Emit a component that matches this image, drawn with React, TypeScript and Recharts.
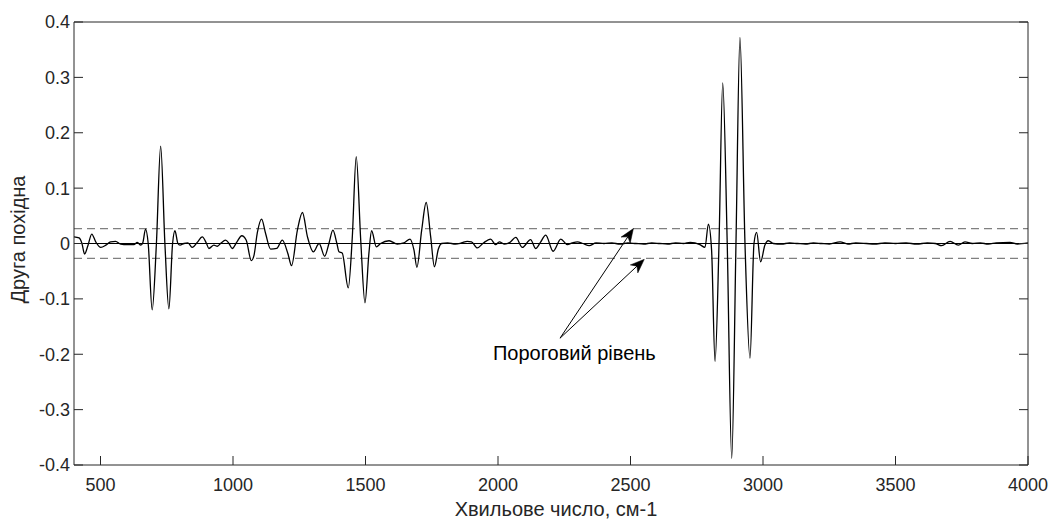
import React from 'react';
import { LineChart, Line, XAxis, YAxis, ReferenceLine, ReferenceDot } from 'recharts';

const wavenumbers: number[] = [
  400, 419, 430, 440, 453, 467, 482, 501, 520, 538, 557, 576, 601, 626, 639, 652, 660, 670, 680, 695,
  711, 727, 743, 758, 772, 781, 792, 800, 815, 830, 846, 865, 884, 900, 909, 928, 941, 955, 972, 985,
  997, 1015, 1033, 1050, 1069, 1079, 1092, 1108, 1123, 1142, 1165, 1186, 1207, 1221, 1243, 1262, 1281, 1303, 1325, 1346,
  1362, 1377, 1392, 1400, 1412, 1435, 1450, 1465, 1482, 1498, 1513, 1523, 1541, 1557, 1589, 1620, 1645, 1668, 1683, 1694,
  1712, 1729, 1746, 1760, 1775, 1787, 1810, 1840, 1862, 1884, 1900, 1922, 1945, 1972, 1991, 2005, 2025, 2045, 2067, 2092,
  2123, 2142, 2160, 2180, 2208, 2237, 2262, 2280, 2300, 2320, 2344, 2370, 2400, 2430, 2460, 2490, 2520, 2550, 2580, 2610,
  2640, 2670, 2700, 2725, 2762, 2781, 2794, 2806, 2819, 2834, 2848, 2865, 2882, 2898, 2913, 2932, 2951, 2966, 2976, 2991,
  3007, 3020, 3039, 3070, 3100, 3130, 3160, 3190, 3220, 3250, 3291, 3320, 3350, 3390, 3420, 3460, 3500, 3540, 3580, 3620,
  3650, 3674, 3706, 3737, 3762, 3790, 3820, 3850, 3880, 3932, 3960, 4000,
];

const secondDerivative: number[] = [
  0.012, 0.010, 0.000, -0.019, -0.003, 0.017, 0.003, -0.007, -0.003, 0.003, 0.004, -0.001, -0.002, -0.002, 0.002, -0.003, 0.002, 0.026, 0.000, -0.120,
  0.000, 0.176, 0.000, -0.118, 0.000, 0.023, 0.000, -0.003, 0.000, 0.001, -0.007, 0.002, 0.012, 0.000, -0.009, -0.003, -0.005, 0.001, 0.006, 0.000,
  -0.009, 0.003, 0.014, 0.006, -0.031, -0.022, 0.020, 0.044, 0.018, -0.010, -0.009, 0.006, -0.018, -0.040, 0.024, 0.056, 0.012, -0.015, 0.000, -0.023,
  0.000, 0.024, 0.000, -0.015, -0.017, -0.080, 0.010, 0.157, 0.006, -0.107, -0.017, 0.023, -0.006, 0.000, 0.005, -0.001, 0.001, 0.008, -0.012, -0.043,
  0.024, 0.074, 0.012, -0.042, -0.010, 0.000, 0.001, -0.001, 0.001, 0.004, 0.003, -0.008, 0.001, 0.008, -0.002, 0.003, -0.001, 0.002, 0.011, -0.007,
  0.007, -0.009, 0.002, 0.015, -0.014, 0.008, -0.002, 0.001, 0.003, 0.000, -0.004, 0.001, 0.000, 0.001, -0.001, 0.001, 0.000, -0.001, 0.001, 0.000,
  -0.001, 0.001, 0.000, 0.002, -0.002, -0.007, 0.035, -0.012, -0.213, 0.000, 0.290, 0.000, -0.388, 0.000, 0.372, 0.000, -0.207, 0.000, 0.020, -0.033,
  -0.003, 0.005, 0.000, -0.001, 0.001, 0.000, -0.001, 0.001, 0.000, -0.001, 0.003, -0.001, 0.001, 0.000, -0.001, 0.001, 0.000, 0.001, -0.001, 0.001,
  0.000, -0.004, 0.004, -0.003, 0.003, 0.000, 0.001, -0.001, 0.001, 0.002, -0.001, 0.001,
];

const xTicks: number[] = [500, 1000, 1500, 2000, 2500, 3000, 3500, 4000];
const yTicks: number[] = [-0.4, -0.3, -0.2, -0.1, 0, 0.1, 0.2, 0.3, 0.4];
const thresholds: number[] = [0.027, -0.027];

const arrowStart = { x: 2234, y: -0.171 };
const arrowTips = [
  { x: 2511, y: 0.027 },
  { x: 2552, y: -0.0286 },
];
const annotationText = 'Пороговий рівень';
const annotationPos = { x: 1981, y: -0.201 };

const xTitle = 'Хвильове число, см-1';
const yTitle = 'Друга похідна';

const data = wavenumbers.map((w, i) => ({ w, v: secondDerivative[i] }));

const FONT = 'Liberation Sans, Arial, Helvetica, sans-serif';
const AXIS_COLOR = '#262626';
const TICK_LEN = 9;
const BOTTOM_GAP = 13;
const LEFT_GAP = 4;

const fmtY = (v: number) => (v === 0 ? '0' : String(v));

const BottomTick = (p: any) => {
  const { x, y, payload } = p;
  const axisY = y - BOTTOM_GAP;
  return (
    <g>
      <line x1={x} x2={x} y1={axisY} y2={axisY - TICK_LEN} stroke={AXIS_COLOR} strokeWidth={1} />
      <text x={x} y={y} dy="0.71em" textAnchor="middle" fontFamily={FONT} fontSize={18} fill={AXIS_COLOR}>
        {payload.value}
      </text>
    </g>
  );
};

const LeftTick = (p: any) => {
  const { x, y, payload } = p;
  const axisX = x + LEFT_GAP;
  return (
    <g>
      <line x1={axisX} x2={axisX + TICK_LEN} y1={y} y2={y} stroke={AXIS_COLOR} strokeWidth={1} />
      <text x={x} y={y} dy="0.355em" textAnchor="end" fontFamily={FONT} fontSize={18} fill={AXIS_COLOR}>
        {fmtY(payload.value)}
      </text>
    </g>
  );
};

const TopTick = (p: any) => {
  const { x, y } = p;
  return <line x1={x} x2={x} y1={y} y2={y + TICK_LEN} stroke={AXIS_COLOR} strokeWidth={1} />;
};

const RightTick = (p: any) => {
  const { x, y } = p;
  return <line x1={x} x2={x - TICK_LEN} y1={y} y2={y} stroke={AXIS_COLOR} strokeWidth={1} />;
};

const Arrow = (p: any) => {
  const { x1, y1, x2, y2 } = p;
  const dx = x2 - x1;
  const dy = y2 - y1;
  const len = Math.sqrt(dx * dx + dy * dy) || 1;
  const ux = dx / len;
  const uy = dy / len;
  const L = 14;
  const W = 5.5;
  const N = 10;
  const bx = x2 - ux * L;
  const by = y2 - uy * L;
  const nx = x2 - ux * N;
  const ny = y2 - uy * N;
  const px = -uy;
  const py = ux;
  const pts = [
    [x2, y2],
    [bx + px * W, by + py * W],
    [nx, ny],
    [bx - px * W, by - py * W],
  ]
    .map((q) => q.join(','))
    .join(' ');
  return (
    <g>
      <line x1={x1} y1={y1} x2={nx} y2={ny} stroke="#000" strokeWidth={1} />
      <polygon points={pts} fill="#000" stroke="#000" strokeWidth={0.5} />
    </g>
  );
};

const AnnotationLabel = (p: any) => (
  <text x={p.cx} y={p.cy} fontFamily={FONT} fontSize={20} fill="#000" dominantBaseline="middle" textAnchor="start">
    {annotationText}
  </text>
);

const XTitle = (p: any) => {
  const vb = p.viewBox;
  return (
    <text x={vb.x + vb.width / 2 + 5} y={vb.y + vb.height - 4} fontFamily={FONT} fontSize={20} fill={AXIS_COLOR} textAnchor="middle">
      {xTitle}
    </text>
  );
};

const YTitle = (p: any) => {
  const vb = p.viewBox;
  const cx = 25;
  const cy = vb.y + vb.height / 2 - 4;
  return (
    <text x={cx} y={cy} transform={`rotate(-90, ${cx}, ${cy})`} fontFamily={FONT} fontSize={20} fill={AXIS_COLOR} textAnchor="middle">
      {yTitle}
    </text>
  );
};

export default function App() {
  return (
    <div style={{ position: 'absolute', left: 0, top: 0, width: 1056, height: 520, background: '#fff' }}>
      <LineChart width={1056} height={520} data={data} margin={{ top: 21, right: 27, bottom: 0, left: 0 }}>
        <XAxis
          dataKey="w"
          type="number"
          domain={[400, 4000]}
          ticks={xTicks}
          interval={0}
          allowDataOverflow
          height={55}
          tickSize={0}
          tickMargin={BOTTOM_GAP}
          tickLine={false}
          stroke={AXIS_COLOR}
          tick={BottomTick}
          label={{ content: XTitle }}
        />
        <XAxis
          xAxisId="top"
          orientation="top"
          type="number"
          domain={[400, 4000]}
          ticks={xTicks}
          interval={0}
          allowDataOverflow
          height={1}
          tickSize={0}
          tickMargin={0}
          tickLine={false}
          tick={TopTick}
          stroke={AXIS_COLOR}
        />
        <YAxis
          type="number"
          domain={[-0.4, 0.4]}
          ticks={yTicks}
          interval={0}
          allowDataOverflow
          width={74}
          tickSize={0}
          tickMargin={LEFT_GAP}
          tickLine={false}
          stroke={AXIS_COLOR}
          tick={LeftTick}
          label={{ content: YTitle }}
        />
        <YAxis
          yAxisId="right"
          orientation="right"
          type="number"
          domain={[-0.4, 0.4]}
          ticks={yTicks}
          interval={0}
          allowDataOverflow
          width={1}
          tickSize={0}
          tickMargin={0}
          tickLine={false}
          tick={RightTick}
          stroke={AXIS_COLOR}
        />
        {thresholds.map((t) => (
          <ReferenceLine key={t} y={t} stroke="#808080" strokeWidth={1.3} strokeDasharray="8 5" />
        ))}
        <ReferenceLine y={0} stroke="#000" strokeWidth={1} />
        <Line
          type="monotone"
          dataKey="v"
          stroke="#000"
          strokeWidth={1.3}
          dot={false}
          isAnimationActive={false}
        />
        {arrowTips.map((tip, i) => (
          <ReferenceLine
            key={i}
            segment={[arrowStart, tip]}
            shape={Arrow}
            ifOverflow="visible"
          />
        ))}
        <ReferenceDot x={annotationPos.x} y={annotationPos.y} r={0} shape={AnnotationLabel} ifOverflow="visible" />
      </LineChart>
    </div>
  );
}
